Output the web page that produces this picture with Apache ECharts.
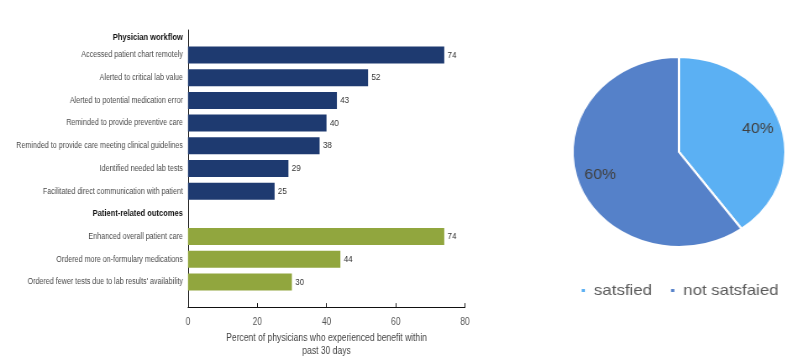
<!DOCTYPE html>
<html>
<head>
<meta charset="utf-8">
<script src="https://cdn.jsdelivr.net/npm/echarts@6/dist/echarts.min.js"></script>
<style>
html,body{margin:0;padding:0;background:#fff;overflow:hidden;}
#bar{position:absolute;left:0;top:0;width:946px;height:363px;transform:scaleX(0.84);transform-origin:0 0;}
#pie{position:absolute;left:568.5px;top:0;width:220px;height:363px;transform:scaleX(1.12);transform-origin:50% 50%;}
</style>
</head>
<body>
<div id="bar"></div>
<div id="pie"></div>
<script>
const groupHeader1 = 'Physician workflow';
const categories = [
  'Accessed patient chart remotely',
  'Alerted to critical lab value',
  'Alerted to potential medication error',
  'Reminded to provide preventive care',
  'Reminded to provide care meeting clinical guidelines',
  'Identified needed lab tests',
  'Facilitated direct communication with patient',
  'Patient-related outcomes',
  'Enhanced overall patient care',
  'Ordered more on-formulary medications',
  "Ordered fewer tests due to lab results' availability"
];
const headerCategories = ['Patient-related outcomes'];
const workflowValues = [74, 52, 43, 40, 38, 29, 25, '-', '-', '-', '-'];
const outcomeValues = ['-', '-', '-', '-', '-', '-', '-', '-', 74, 44, 30];
const xTicks = [0, 20, 40, 60, 80];
const xAxisTitle = 'Percent of physicians who experienced benefit within\npast 30 days';

const pieNames = ['satsfied', 'not satsfaied'];
const pieValues = [40, 60];

const font = "'Liberation Sans',Arial,sans-serif";

const bar = echarts.init(document.getElementById('bar'));
const gridPos = {left: 223.8, right: 392.4};
bar.setOption({
  animation: false,
  grid: [
    {left: gridPos.left, right: gridPos.right, top: 43.65, bottom: 69.65},
    {left: gridPos.left, right: gridPos.right, top: 30, bottom: 55}
  ],
  xAxis: [
    {gridIndex: 0, type: 'value', min: xTicks[0], max: xTicks[xTicks.length - 1], interval: 20, show: false},
    {gridIndex: 1, type: 'value', min: xTicks[0], max: xTicks[xTicks.length - 1], interval: 20,
     splitLine: {show: false},
     axisLine: {show: true, lineStyle: {color: '#111', width: 1}},
     axisTick: {show: true, inside: true, length: 4, lineStyle: {color: '#111'}},
     axisLabel: {color: '#555', fontSize: 10, fontFamily: font, margin: 10},
     name: xAxisTitle, nameLocation: 'middle', nameGap: 24,
     nameTextStyle: {color: '#444', fontSize: 10.2, fontFamily: font, lineHeight: 13}}
  ],
  yAxis: [
    {gridIndex: 0, type: 'category', data: categories, inverse: true,
     axisLine: {show: false}, axisTick: {show: false},
     axisLabel: {
       color: '#4a4a4a', fontSize: 8.5, fontFamily: font, margin: 6,
       formatter: v => headerCategories.includes(v) ? '{h|' + v + '}' : v,
       rich: {h: {color: '#111', fontWeight: 'bold', fontSize: 9, fontFamily: font}}
     }},
    {gridIndex: 1, type: 'value', min: 0, max: 1,
     axisLabel: {show: false}, axisTick: {show: false}, splitLine: {show: false},
     axisLine: {show: true, lineStyle: {color: '#111', width: 1}},
     name: groupHeader1, nameLocation: 'end', nameGap: -12,
     nameTextStyle: {color: '#111', fontSize: 9, fontWeight: 'bold', fontFamily: font, align: 'right', padding: [0, 6, 0, 0]}}
  ],
  series: [
    {type: 'bar', xAxisIndex: 0, yAxisIndex: 0, data: workflowValues, barWidth: 17, barGap: '-100%',
     itemStyle: {color: '#1e3a70'},
     label: {show: true, position: 'right', distance: 4, color: '#333', fontSize: 9.5, fontFamily: font}},
    {type: 'bar', xAxisIndex: 0, yAxisIndex: 0, data: outcomeValues, barWidth: 17, barGap: '-100%',
     itemStyle: {color: '#91a63e'},
     label: {show: true, position: 'right', distance: 4, color: '#333', fontSize: 9.5, fontFamily: font}}
  ]
});

const pieColors = ['#5bb0f3', '#5581c9'];
const pie = echarts.init(document.getElementById('pie'));
const pieData = pieNames.map((n, i) => ({name: n, value: pieValues[i]}));
pie.setOption({
  animation: false,
  legend: {
    bottom: 60, left: 'center', icon: 'rect', itemWidth: 5, itemHeight: 5, itemGap: 15,
    data: pieNames.map((n, i) => ({name: n, itemStyle: {color: pieColors[i]}})),
    textStyle: {color: '#595959', fontSize: 15, fontFamily: font, padding: [0, 0, 0, 2]}
  },
  series: [
    {type: 'pie', center: [110, 152], radius: 95, startAngle: 90, clockwise: true,
     data: pieData.map((d, i) => ({...d, itemStyle: {color: pieColors[i]}})),
     itemStyle: {borderColor: '#fff', borderWidth: 2},
     label: {show: false}, labelLine: {show: false}, silent: true},
    {type: 'pie', center: [110, 152], radius: 142, startAngle: 90, clockwise: true,
     data: pieData.map(d => ({...d, itemStyle: {color: 'rgba(0,0,0,0)'}})),
     label: {show: true, position: 'inside', formatter: '{d}%', color: '#404040', fontSize: 14, fontFamily: font},
     labelLine: {show: false}, silent: true}
  ]
});
</script>
</body>
</html>
